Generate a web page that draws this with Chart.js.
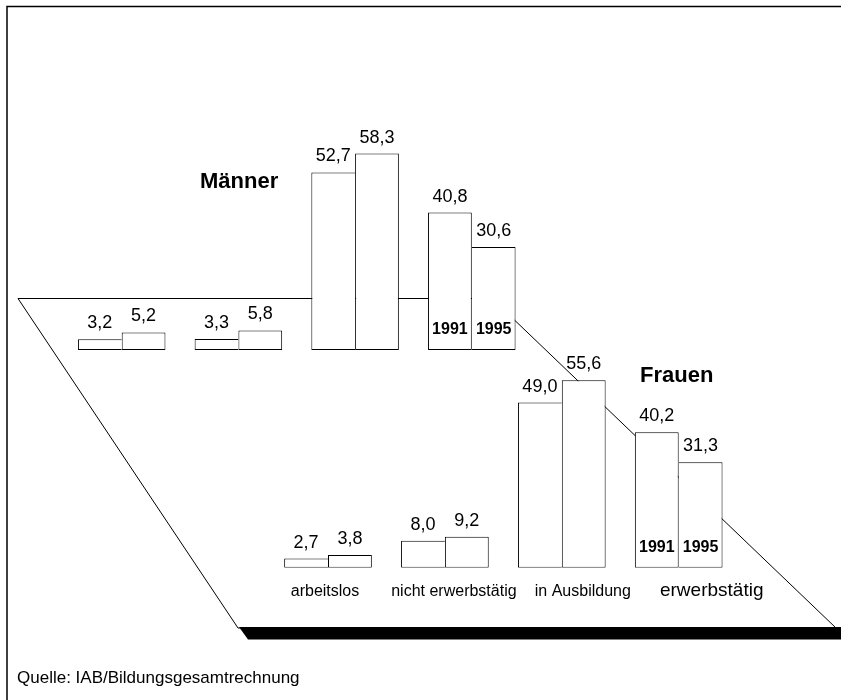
<!DOCTYPE html>
<html lang="de">
<head>
<meta charset="utf-8">
<title>Männer und Frauen 1991 / 1995</title>
<script src="https://cdn.jsdelivr.net/npm/chart.js@4/dist/chart.umd.min.js"></script>
<style>
  body { margin: 0; background: #fff; }
  #wrap { position: relative; width: 841px; height: 700px; }
  #wrap canvas { position: absolute; left: 0; top: 0; }
</style>
</head>
<body>
<div id="wrap">
  <canvas id="men-chart" width="841" height="700"></canvas>
  <canvas id="women-chart" width="841" height="700"></canvas>
</div>
<script>
const categories = ["arbeitslos", "nicht erwerbstätig", "in Ausbildung", "erwerbstätig"];
const years = ["1991", "1995"];
const men1991 = [3.2, 3.3, 52.7, 40.8];
const men1995 = [5.2, 5.8, 58.3, 30.6];
const women1991 = [2.7, 8.0, 49.0, 40.2];
const women1995 = [3.8, 9.2, 55.6, 31.3];
const sourceNote = "Quelle: IAB/Bildungsgesamtrechnung";

const FONT = "'Liberation Sans', Arial, Helvetica, sans-serif";

// the shared edge of two bars is drawn only once, by the taller bar
function barBorder(ctx) {
    const sets = ctx.chart.data.datasets;
    const a = sets[0].data[ctx.dataIndex];
    const b = sets[1].data[ctx.dataIndex];
    if (ctx.datasetIndex === 0) {
        return { top: 1, left: 1, bottom: 1, right: a > b ? 1 : 0 };
    }
    return { top: 1, right: 1, bottom: 1, left: b >= a ? 1 : 0 };
}

// background: frame, floor plane, shadow band, source line
const floorPlane = {
    id: 'floorPlane',
    beforeDatasetsDraw(chart) {
        const c = chart.ctx;
        c.save();
        c.strokeStyle = '#000';
        c.lineWidth = 1.5;
        c.beginPath();
        c.moveTo(7, 700);
        c.lineTo(7, 6.5);
        c.lineTo(841, 6.5);
        c.stroke();

        c.lineWidth = 1;
        c.beginPath();
        c.moveTo(18, 298.5);
        c.lineTo(492, 298.5);
        c.lineTo(836, 628);
        c.lineTo(238, 628);
        c.closePath();
        c.stroke();

        c.fillStyle = '#000';
        c.beginPath();
        c.moveTo(239, 627);
        c.lineTo(841, 627);
        c.lineTo(841, 639.5);
        c.lineTo(248, 639.5);
        c.closePath();
        c.fill();

        c.font = `17px ${FONT}`;
        c.textAlign = 'left';
        c.textBaseline = 'alphabetic';
        c.fillText(sourceNote, 17, 683);
        c.restore();
    }
};

// value labels, year labels, group title, category labels
const barTexts = {
    id: 'barTexts',
    afterDatasetsDraw(chart, args, opts) {
        const c = chart.ctx;
        const base = chart.scales.y.getPixelForValue(0);
        const last = categories.length - 1;
        c.save();
        c.fillStyle = '#000';
        c.textAlign = 'center';
        c.textBaseline = 'alphabetic';
        chart.data.datasets.forEach((ds, d) => {
            chart.getDatasetMeta(d).data.forEach((bar, i) => {
                c.font = `18px ${FONT}`;
                c.fillText(ds.data[i].toFixed(1).replace('.', ','), bar.x, bar.y - 11);
                if (i === last) {
                    c.font = `bold 16px ${FONT}`;
                    c.fillText(ds.label, bar.x, base - 16);
                }
            });
        });

        c.textAlign = 'left';
        c.font = `bold 22px ${FONT}`;
        c.fillText(opts.title, opts.titleX, opts.titleY);

        if (opts.showCategories) {
            c.textAlign = 'center';
            categories.forEach((cat, i) => {
                const x = chart.scales.x.getPixelForValue(i) - 3 + i * 12;
                c.font = i === last ? `19px ${FONT}` : `16px ${FONT}`;
                c.fillText(cat, x, base + 28);
            });
        }
        c.restore();
    }
};

function makeChart(canvasId, values1991, values1995, padding, textOpts, extraPlugins) {
    const common = {
        backgroundColor: '#fff',
        borderColor: '#000',
        borderWidth: barBorder,
        borderSkipped: false,
        categoryPercentage: 0.75,
        barPercentage: 1.0
    };
    return new Chart(document.getElementById(canvasId), {
        type: 'bar',
        data: {
            labels: categories,
            datasets: [
                Object.assign({ label: years[0], data: values1991 }, common),
                Object.assign({ label: years[1], data: values1995 }, common)
            ]
        },
        options: {
            responsive: false,
            animation: false,
            layout: { padding: padding },
            scales: {
                x: { display: false },
                y: { display: false, min: 0, max: 60 }
            },
            plugins: {
                legend: { display: false },
                tooltip: { enabled: false },
                barTexts: textOpts
            }
        },
        plugins: extraPlugins.concat([barTexts])
    });
}

makeChart("men-chart", men1991, men1995,
    { left: 63.35, right: 310.85, top: 147.8, bottom: 350 },
    { title: "Männer", titleX: 200, titleY: 188, showCategories: false },
    [floorPlane]);

makeChart("women-chart", women1991, women1995,
    { left: 269.55, right: 103.85, top: 365.5, bottom: 132.3 },
    { title: "Frauen", titleX: 640, titleY: 382, showCategories: true },
    []);
</script>
</body>
</html>
